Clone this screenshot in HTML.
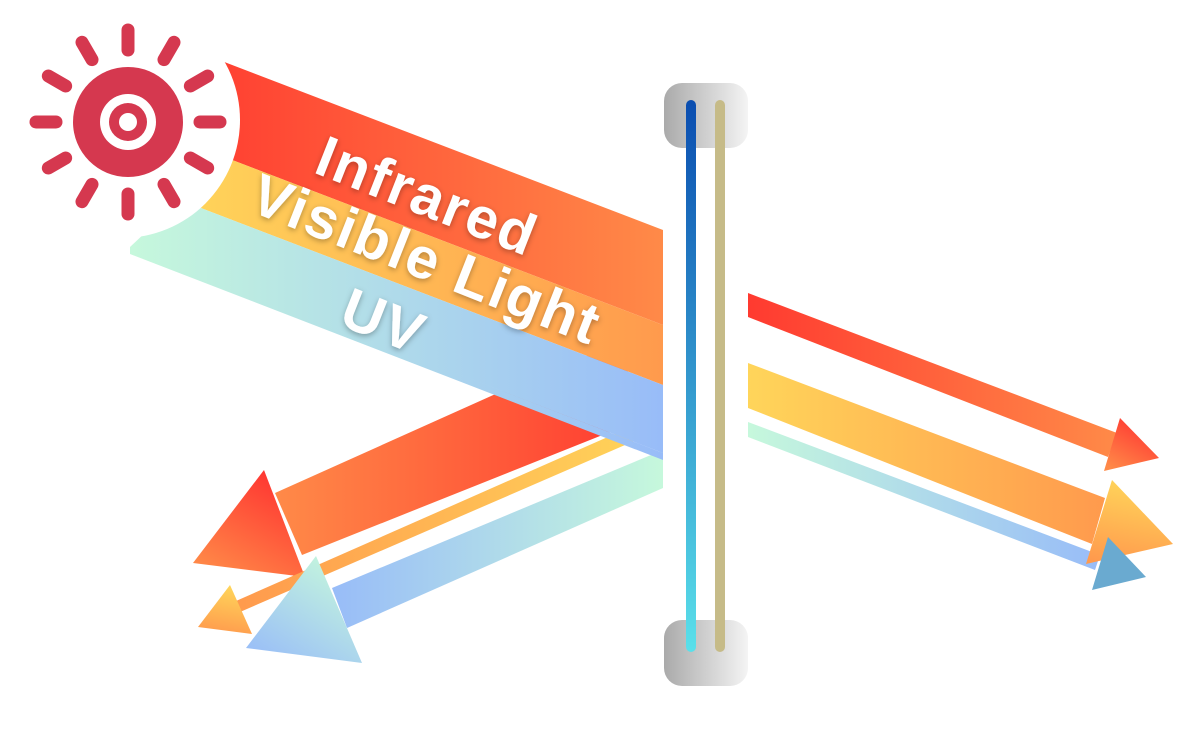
<!DOCTYPE html>
<html><head><meta charset="utf-8"><style>
html,body{margin:0;padding:0;background:#fff;}
svg{display:block}
text{font-family:"Liberation Sans",sans-serif;font-weight:bold;fill:#fff}
</style></head><body>
<svg width="1200" height="747" viewBox="0 0 1200 747" xmlns="http://www.w3.org/2000/svg">
<defs>
<linearGradient id="gR" x1="0" y1="0" x2="1" y2="0"><stop offset="0" stop-color="#ff3a30"/><stop offset="1" stop-color="#ff8a48"/></linearGradient>
<linearGradient id="gY" x1="0" y1="0" x2="1" y2="0"><stop offset="0" stop-color="#ffd55a"/><stop offset="1" stop-color="#ff9a4d"/></linearGradient>
<linearGradient id="gU" x1="0" y1="0" x2="1" y2="0"><stop offset="0" stop-color="#c6f8dc"/><stop offset="1" stop-color="#98bcf8"/></linearGradient>
<linearGradient id="gRr" x1="1" y1="0" x2="0" y2="0"><stop offset="0" stop-color="#ff3a30"/><stop offset="1" stop-color="#ff8a48"/></linearGradient>
<linearGradient id="gYr" x1="1" y1="0" x2="0" y2="0"><stop offset="0" stop-color="#ffd55a"/><stop offset="1" stop-color="#ff9a4d"/></linearGradient>
<linearGradient id="gUr" x1="1" y1="0" x2="0" y2="0"><stop offset="0" stop-color="#c6f8dc"/><stop offset="1" stop-color="#98bcf8"/></linearGradient>
<linearGradient id="aR" x1="0.8" y1="0" x2="0.2" y2="1"><stop offset="0" stop-color="#ff3030"/><stop offset="1" stop-color="#ff8a48"/></linearGradient>
<linearGradient id="aY" x1="0.5" y1="0" x2="0.3" y2="1"><stop offset="0" stop-color="#ffd55a"/><stop offset="1" stop-color="#ff9a4d"/></linearGradient>
<linearGradient id="aU" x1="0.8" y1="0" x2="0.1" y2="1"><stop offset="0" stop-color="#c6f8dc"/><stop offset="1" stop-color="#98bcf8"/></linearGradient>
<linearGradient id="cap" x1="0" y1="0" x2="1" y2="0"><stop offset="0" stop-color="#aaaaaa"/><stop offset="1" stop-color="#f4f4f4"/></linearGradient>
<linearGradient id="blue" gradientUnits="userSpaceOnUse" x1="0" y1="100" x2="0" y2="652"><stop offset="0" stop-color="#0a4db0"/><stop offset="1" stop-color="#5ae0ea"/></linearGradient>
<filter id="sh" x="-10%" y="-30%" width="120%" height="160%"><feDropShadow dx="0" dy="2" stdDeviation="3" flood-color="#000" flood-opacity="0.3"/></filter>
</defs>

<!-- reflected beams (left) -->
<polygon points="500,392 620,342 640,420 302,555 275,493" fill="url(#gRr)"/>
<polygon points="264,470 193,563 305,577" fill="url(#aR)"/>
<polygon points="610,436 650,420 655,432 240,612 236,601" fill="url(#gYr)"/>
<polygon points="230,585 198,627 252,634" fill="url(#aY)"/>
<polygon points="663,450 663,488 347,628 332,588" fill="url(#gUr)"/>
<polygon points="316,556 246,648 362,663" fill="url(#aU)"/>

<!-- incoming beam -->
<polygon points="180,45 663,230 663,325 180,140" fill="url(#gR)"/>
<polygon points="180,140 663,325 663,385 180,200" fill="url(#gY)"/>
<polygon points="130,247 180,200 663,385 663,453 130,248" fill="url(#gU)"/>
<polygon points="130,247 663,453 663,460 130,254" fill="url(#gU)"/>
<circle cx="122" cy="120" r="118" fill="#fff"/>

<!-- labels -->
<g filter="url(#sh)">
<text x="0" y="0" font-size="58" letter-spacing="2" transform="translate(312,172) rotate(21.5)">Infrared</text>
<text x="0" y="0" font-size="58" letter-spacing="2" transform="translate(247,210) rotate(21.5)">Visible Light</text>
<text x="0" y="0" font-size="58" letter-spacing="2" transform="translate(337,324) rotate(21.5)">UV</text>
</g>

<!-- sun -->
<g fill="#d5384f" stroke="#d5384f" stroke-linecap="round">
<circle cx="128" cy="122" r="55" stroke="none"/>
<g stroke-width="13" transform="translate(128,122)">
<line x1="0" y1="-72" x2="0" y2="-92"/>
<line x1="0" y1="-72" x2="0" y2="-92" transform="rotate(30)"/>
<line x1="0" y1="-72" x2="0" y2="-92" transform="rotate(60)"/>
<line x1="0" y1="-72" x2="0" y2="-92" transform="rotate(90)"/>
<line x1="0" y1="-72" x2="0" y2="-92" transform="rotate(120)"/>
<line x1="0" y1="-72" x2="0" y2="-92" transform="rotate(150)"/>
<line x1="0" y1="-72" x2="0" y2="-92" transform="rotate(180)"/>
<line x1="0" y1="-72" x2="0" y2="-92" transform="rotate(210)"/>
<line x1="0" y1="-72" x2="0" y2="-92" transform="rotate(240)"/>
<line x1="0" y1="-72" x2="0" y2="-92" transform="rotate(270)"/>
<line x1="0" y1="-72" x2="0" y2="-92" transform="rotate(300)"/>
<line x1="0" y1="-72" x2="0" y2="-92" transform="rotate(330)"/>
</g>
</g>
<circle cx="128" cy="122" r="28" fill="#fff"/>
<circle cx="128" cy="122" r="19" fill="#d5384f"/>
<circle cx="128" cy="122" r="9" fill="#fff"/>

<!-- window -->
<rect x="664" y="83" width="84" height="65" rx="18" fill="url(#cap)"/>
<rect x="664" y="620" width="84" height="66" rx="18" fill="url(#cap)"/>
<rect x="686" y="100" width="10" height="552" rx="5" fill="url(#blue)"/>
<rect x="715" y="100" width="10" height="552" rx="5" fill="#c6bb88"/>

<!-- transmitted beams (right) -->
<polygon points="748,293 1117,433 1108,457 748,317" fill="url(#gR)"/>
<polygon points="1120,418 1159,458 1104,471" fill="url(#aR)"/>
<polygon points="748,363 1105,498 1092,544 748,408" fill="url(#gY)"/>
<polygon points="748,422 1100,555 1095,570 748,437" fill="url(#gU)"/>
<polygon points="1112,480 1173,544 1086,564" fill="url(#aY)"/>
<polygon points="1108,537 1146,577 1092,590" fill="#6aaad0"/>
</svg>
</body></html>
